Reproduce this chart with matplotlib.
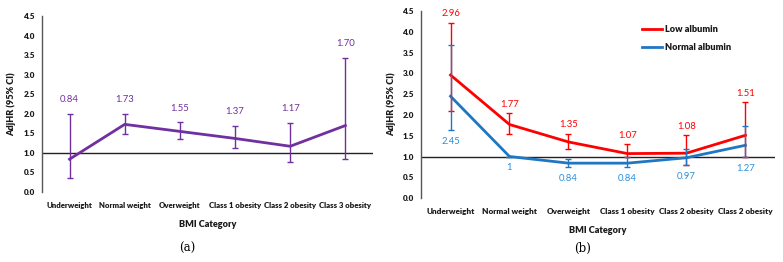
import matplotlib
matplotlib.use("Agg")
import matplotlib.pyplot as plt
import numpy as np

plt.rcParams['font.family'] = ['Lato', 'DejaVu Sans']

# Panel (a)
cats_a = ["Underweight", "Normal weight", "Overweight", "Class 1 obesity", "Class 2 obesity", "Class 3 obesity"]
hr_a = [0.84, 1.73, 1.55, 1.37, 1.17, 1.70]
lo_a = [0.36, 1.49, 1.36, 1.12, 0.77, 0.84]
hi_a = [2.00, 2.00, 1.78, 1.69, 1.76, 3.43]
lab_a = ["0.84", "1.73", "1.55", "1.37", "1.17", "1.70"]

# Panel (b)
cats_b = ["Underweight", "Normal weight", "Overweight", "Class 1 obesity", "Class 2 obesity", "Class 2 obesity"]
hr_low = [2.96, 1.77, 1.35, 1.07, 1.08, 1.51]
lo_low = [2.09, 1.55, 1.18, 0.99, 0.80, 0.99]
hi_low = [4.22, 2.05, 1.55, 1.30, 1.51, 2.30]
lab_low = ["2.96", "1.77", "1.35", "1.07", "1.08", "1.51"]

hr_norm = [2.45, 1.00, 0.84, 0.84, 0.97, 1.27]
lo_norm = [1.63, 1.00, 0.75, 0.75, 0.80, 0.99]
hi_norm = [3.69, 1.00, 0.94, 0.99, 1.18, 1.73]
lab_norm = ["2.45", "1", "0.84", "0.84", "0.97", "1.27"]

yticks = [0.0, 0.5, 1.0, 1.5, 2.0, 2.5, 3.0, 3.5, 4.0, 4.5]

PURPLE = "#7030A0"
RED = "#FF0000"
BLUE = "#1F77C4"
BLUE_TXT = "#2E8FD8"
TXT = "#1a1a1a"
W = 'heavy'

fig = plt.figure(figsize=(7.83, 2.62), dpi=100)
ax1 = fig.add_axes([0.0536, 0.267, 0.4227, 0.672])
ax2 = fig.add_axes([0.5377, 0.244, 0.452, 0.714])


def style(ax, cats, xfs):
    ax.set_ylim(0, 4.5)
    ax.set_xlim(-0.5, len(cats) - 0.5)
    ax.set_yticks(yticks)
    ax.set_yticklabels([f"{t:.1f}" for t in yticks], fontsize=5.9, fontweight=W, color=TXT)
    ax.set_xticks(range(len(cats)))
    ax.set_xticklabels(cats, fontsize=xfs, fontweight=W, color=TXT)
    for s in ['top', 'right', 'bottom']:
        ax.spines[s].set_visible(False)
    ax.spines['left'].set_color('#555555')
    ax.spines['left'].set_linewidth(1.0)
    ax.tick_params(axis='both', length=0, pad=5)
    ax.tick_params(axis='x', pad=7)
    ax.axhline(1.0, color='#222222', lw=1.0, zorder=1)
    ax.set_xlabel("BMI Category", fontsize=6.6, fontweight=W, color=TXT, labelpad=8)
    ax.set_ylabel("AdjHR (95% CI)", fontsize=6.6, fontweight=W, color=TXT, labelpad=5)


x_a = np.arange(len(cats_a))
ax1.errorbar(x_a, hr_a, yerr=[np.array(hr_a) - np.array(lo_a), np.array(hi_a) - np.array(hr_a)],
             color=PURPLE, lw=2, elinewidth=1.0, capsize=2.5, capthick=1.0, zorder=3)
for xi, top, t in zip(x_a, hi_a, lab_a):
    ax1.annotate(t, (xi, top), xytext=(0, 7), textcoords='offset points', ha='center', va='bottom',
                 fontsize=6.8, color=PURPLE)
style(ax1, cats_a, 5.6)

x_b = np.arange(len(cats_b))
ax2.plot(x_b, hr_low, color=RED, lw=2, zorder=3, label="Low albumin")
ax2.plot(x_b, hr_norm, color=BLUE, lw=2, zorder=3, label="Normal albumin")
ax2.errorbar(x_b, hr_low, yerr=[np.array(hr_low) - np.array(lo_low), np.array(hi_low) - np.array(hr_low)],
             fmt='none', ecolor=RED, elinewidth=1.0, capsize=2.5, capthick=1.0, zorder=3)
ax2.errorbar(x_b, hr_norm, yerr=[np.array(hr_norm) - np.array(lo_norm), np.array(hi_norm) - np.array(hr_norm)],
             fmt='none', ecolor=BLUE, elinewidth=1.0, capsize=2.5, capthick=1.0, zorder=4)
for xi, top, t in zip(x_b, hi_low, lab_low):
    ax2.annotate(t, (xi, top), xytext=(0, 3), textcoords='offset points', ha='center', va='bottom',
                 fontsize=6.8, color=RED)
for xi, bot, t in zip(x_b, lo_norm, lab_norm):
    ax2.annotate(t, (xi, bot), xytext=(0, -5), textcoords='offset points', ha='center', va='top',
                 fontsize=6.8, color=BLUE_TXT)
style(ax2, cats_b, 5.9)
leg = ax2.legend(loc='upper left', bbox_to_anchor=(0.6, 0.97), frameon=False, fontsize=6.6,
                 handlelength=2.2, handletextpad=0.4, labelspacing=1.0)
for txt in leg.get_texts():
    txt.set_fontweight(W)
    txt.set_color(TXT)

fig.text(187 / 783, 1 - 248 / 262, "(a)", ha='center', va='center', fontsize=8.5, family='DejaVu Serif')
fig.text(583 / 783, 1 - 248 / 262, "(b)", ha='center', va='center', fontsize=8.5, family='DejaVu Serif')

fig.savefig("out.png", dpi=100)
